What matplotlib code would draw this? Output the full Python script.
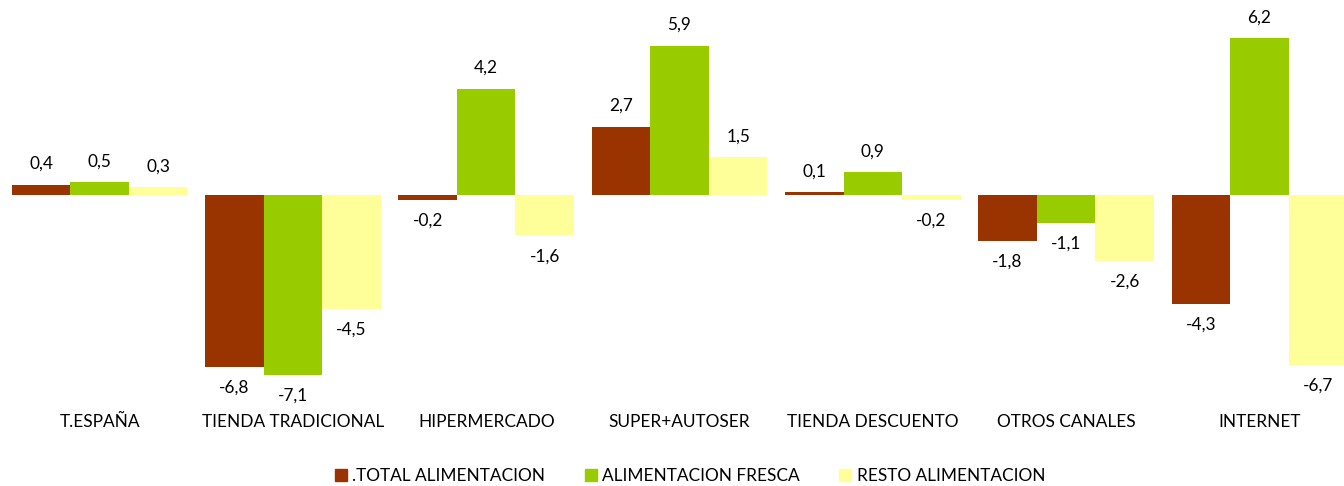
import matplotlib.pyplot as plt
import numpy as np
from matplotlib.patches import Patch

plt.rcParams['font.family'] = ['Lato', 'DejaVu Sans']

categories = ['T.ESPAÑA', 'TIENDA TRADICIONAL', 'HIPERMERCADO', 'SUPER+AUTOSER',
              'TIENDA DESCUENTO', 'OTROS CANALES', 'INTERNET']
series_names = ['.TOTAL ALIMENTACION', 'ALIMENTACION FRESCA', 'RESTO ALIMENTACION']
total = [0.4, -6.8, -0.2, 2.7, 0.1, -1.8, -4.3]
fresca = [0.5, -7.1, 4.2, 5.9, 0.9, -1.1, 6.2]
resto = [0.3, -4.5, -1.6, 1.5, -0.2, -2.6, -6.7]
colors = ['#993300', '#99CC00', '#FFFF99']

W, H = 1344, 486
fig = plt.figure(figsize=(W / 100, H / 100), dpi=100)
ax = fig.add_axes([3 / W, 0, 1353 / W, 1])

x = np.arange(len(categories))
bw = 0.303
for i, (vals, col, name) in enumerate(zip([total, fresca, resto], colors, series_names)):
    pos = x + (i - 1) * bw
    ax.bar(pos, vals, width=bw, color=col, label=name, linewidth=0)
    for p, v in zip(pos, vals):
        off = 15 if v >= 0 else -15
        ax.annotate(f'{v:.1f}'.replace('.', ','), (p, v), xytext=(0, off),
                    textcoords='offset points', ha='center', va='center',
                    fontsize=12.4, color='#000000')

# zero at 195 px from top, 25.3 px per unit
ax.set_ylim(-(H - 195) / 25.3, 195 / 25.3)
ax.set_xlim(-0.5, len(categories) - 0.5)
for xi, c in zip(x, categories):
    ax.text(xi, -(422 - 195) / 25.3, c, ha='center', va='center', fontsize=12.4)
ax.axis('off')

handles = [Patch(color=c) for c in colors]
fig.legend(handles, series_names, loc='center', bbox_to_anchor=(690 / W, 1 - 476 / H),
           ncol=3, frameon=False, fontsize=12.4, handlelength=0.7, handleheight=0.7,
           handletextpad=0.3, columnspacing=2.3)

fig.savefig('out.png', dpi=100)
